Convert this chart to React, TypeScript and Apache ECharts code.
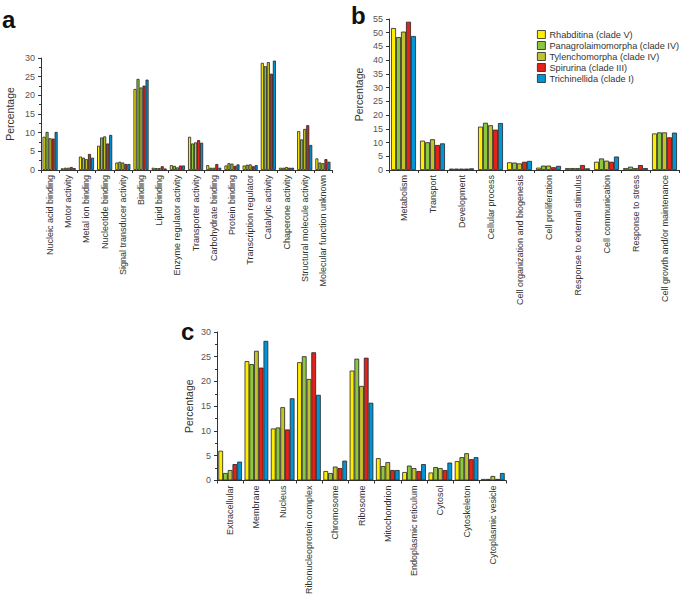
import React, { useEffect, useRef } from "react";
import * as echarts from "echarts";

const seriesNames = [
  "Rhabditina (clade V)",
  "Panagrolaimomorpha (clade IV)",
  "Tylenchomorpha (clade IV)",
  "Spirurina (clade III)",
  "Trichinellida (clade I)",
];
const colors = ["#FFED00", "#8DC63F", "#C2C22B", "#E2231A", "#0095D6"];

// Panel a: molecular function
const catA = [
  "Nucleic acid binding", "Motor activity", "Metal ion binding", "Nucleotide binding",
  "Signal transducer activity", "Binding", "Lipid binding", "Enzyme regulator activity",
  "Transporter activity", "Carbohydrate binding", "Protein binding", "Transcription regulator",
  "Catalytic activity", "Chaperone activity", "Structural molecule activity", "Molecular function unknown",
];
const aRhab = [8.9, 0.45, 3.6, 6.5, 2.0, 21.7, 0.6, 1.3, 8.9, 1.3, 1.2, 1.2, 28.7, 0.6, 10.4, 3.1];
const aPana = [10.2, 0.6, 3.3, 8.7, 2.2, 24.4, 0.5, 1.1, 7.1, 0.6, 1.8, 1.4, 27.8, 0.6, 8.2, 2.0];
const aTyle = [8.5, 0.6, 2.9, 9.0, 2.0, 22.1, 0.5, 0.7, 7.4, 0.6, 1.7, 1.5, 28.9, 0.8, 11.0, 1.8];
const aSpir = [8.4, 0.8, 4.3, 7.1, 1.6, 22.6, 1.0, 1.2, 8.0, 1.6, 1.1, 1.0, 25.8, 0.6, 12.0, 2.9];
const aTric = [10.2, 0.5, 3.3, 9.4, 1.6, 24.2, 0.4, 1.2, 7.3, 0.6, 1.5, 1.3, 29.3, 0.6, 6.7, 2.2];

// Panel b: biological process
const catB = [
  "Metabolism", "Transport", "Development", "Cellular process",
  "Cell organization and biogenesis", "Cell proliferation", "Response to external stimulus",
  "Cell communication", "Response to stress", "Cell growth and/or maintenance",
];
const bRhab = [51.7, 10.7, 0.5, 15.8, 2.8, 0.85, 0.7, 3.0, 0.7, 13.3];
const bPana = [48.4, 10.1, 0.5, 17.2, 2.7, 1.6, 0.7, 4.2, 1.2, 13.7];
const bTyle = [50.4, 11.2, 0.5, 16.3, 2.4, 1.6, 0.7, 3.4, 0.7, 13.7];
const bSpir = [54.0, 9.1, 0.5, 14.7, 3.0, 1.0, 1.8, 3.0, 1.8, 11.9];
const bTric = [48.8, 9.7, 0.6, 17.1, 3.3, 1.5, 0.6, 4.9, 0.7, 13.6];

// Panel c: cellular component
const catC = [
  "Extracellular", "Membrane", "Nucleus", "Ribonucleoprotein complex", "Chromosome",
  "Ribosome", "Mitochondrion", "Endoplasmic reticulum", "Cytosol", "Cytoskeleton",
  "Cytoplasmic vesicle",
];
const cRhab = [6.0, 24.1, 10.5, 23.9, 1.9, 22.2, 4.5, 1.7, 1.6, 3.9, 0.3];
const cPana = [1.5, 23.5, 10.7, 25.1, 1.5, 24.6, 2.9, 3.0, 2.7, 4.7, 0.3];
const cTyle = [2.1, 26.2, 14.8, 20.5, 2.8, 19.1, 3.7, 2.5, 2.5, 5.5, 0.9];
const cSpir = [3.3, 22.8, 10.3, 25.9, 2.5, 24.8, 2.1, 1.9, 2.1, 4.3, 0.3];
const cTric = [3.8, 28.2, 16.6, 17.3, 4.0, 15.7, 2.1, 3.3, 3.6, 4.7, 1.5];

const FONT = "Liberation Sans, Arial, Helvetica, sans-serif";

export default function App() {
  const ref = useRef<HTMLDivElement>(null);
  useEffect(() => {
    if (!ref.current) return;
    const chart = echarts.init(ref.current, null, { renderer: "svg" });
    const panels = [
      { cats: catA, data: [aRhab, aPana, aTyle, aSpir, aTric], max: 30, minor: true, gap: "17%", nameGap: 26 },
      { cats: catB, data: [bRhab, bPana, bTyle, bSpir, bTric], max: 55, minor: false, gap: "14%", nameGap: 25 },
      { cats: catC, data: [cRhab, cPana, cTyle, cSpir, cTric], max: 30, minor: true, gap: "10%", nameGap: 23 },
    ];
    const grids = [
      { left: 41, top: 58, width: 291, height: 112 },
      { left: 389, top: 19, width: 290, height: 151 },
      { left: 217, top: 332, width: 289, height: 150 },
    ];
    const axisLineStyle = { color: "#333", width: 1 };
    const xAxis = panels.map((p, i) => ({
      type: "category",
      gridIndex: i,
      data: p.cats,
      axisLine: { show: true, lineStyle: axisLineStyle },
      axisTick: { show: true, length: 3, lineStyle: axisLineStyle },
      axisLabel: {
        interval: 0,
        rotate: 90,
        fontSize: 9,
        color: "#333",
        fontFamily: FONT,
        margin: 5,
      },
    }));
    const yAxis = panels.map((p, i) => ({
      type: "value",
      gridIndex: i,
      min: 0,
      max: p.max,
      interval: 5,
      name: "Percentage",
      nameLocation: "middle",
      nameGap: p.nameGap,
      nameTextStyle: { fontSize: 10.5, color: "#333", fontFamily: FONT },
      axisLine: { show: true, lineStyle: axisLineStyle },
      axisTick: { show: true, length: 3, lineStyle: axisLineStyle },
      minorTick: { show: p.minor, splitNumber: 2, length: 2, lineStyle: axisLineStyle },
      splitLine: { show: false },
      axisLabel: { fontSize: 9, color: "#555", fontFamily: FONT, margin: 6 },
    }));
    const series: any[] = [];
    panels.forEach((p, i) => {
      p.data.forEach((vals, k) => {
        series.push({
          type: "bar",
          name: seriesNames[k],
          xAxisIndex: i,
          yAxisIndex: i,
          data: vals,
          barGap: "0%",
          barCategoryGap: p.gap,
          itemStyle: { color: colors[k], borderColor: "#222", borderWidth: 0.8 },
        });
      });
    });
    chart.setOption({
      animation: false,
      backgroundColor: "#fff",
      color: colors,
      textStyle: { fontFamily: FONT },
      grid: grids,
      xAxis,
      yAxis,
      legend: {
        data: seriesNames,
        orient: "vertical",
        left: 532,
        top: 24,
        itemWidth: 8,
        itemHeight: 8,
        itemGap: 0,
        icon: "rect",
        selectedMode: false,
        itemStyle: { borderColor: "#222", borderWidth: 0.8 },
        textStyle: { fontSize: 9.2, color: "#333", fontFamily: FONT, lineHeight: 11, padding: [0, 0, 0, -1] },
      },
      graphic: [
        { type: "text", left: 2, top: 7, style: { text: "a", fontSize: 24, fontWeight: "bold", fill: "#111", fontFamily: FONT } },
        { type: "text", left: 351, top: 3, style: { text: "b", fontSize: 24, fontWeight: "bold", fill: "#111", fontFamily: FONT } },
        { type: "text", left: 181, top: 319, style: { text: "c", fontSize: 24, fontWeight: "bold", fill: "#111", fontFamily: FONT } },
      ],
      series,
    });
    return () => chart.dispose();
  }, []);
  return (
    <div
      ref={ref}
      style={{ position: "absolute", left: 0, top: 0, width: 685, height: 597 }}
    />
  );
}
